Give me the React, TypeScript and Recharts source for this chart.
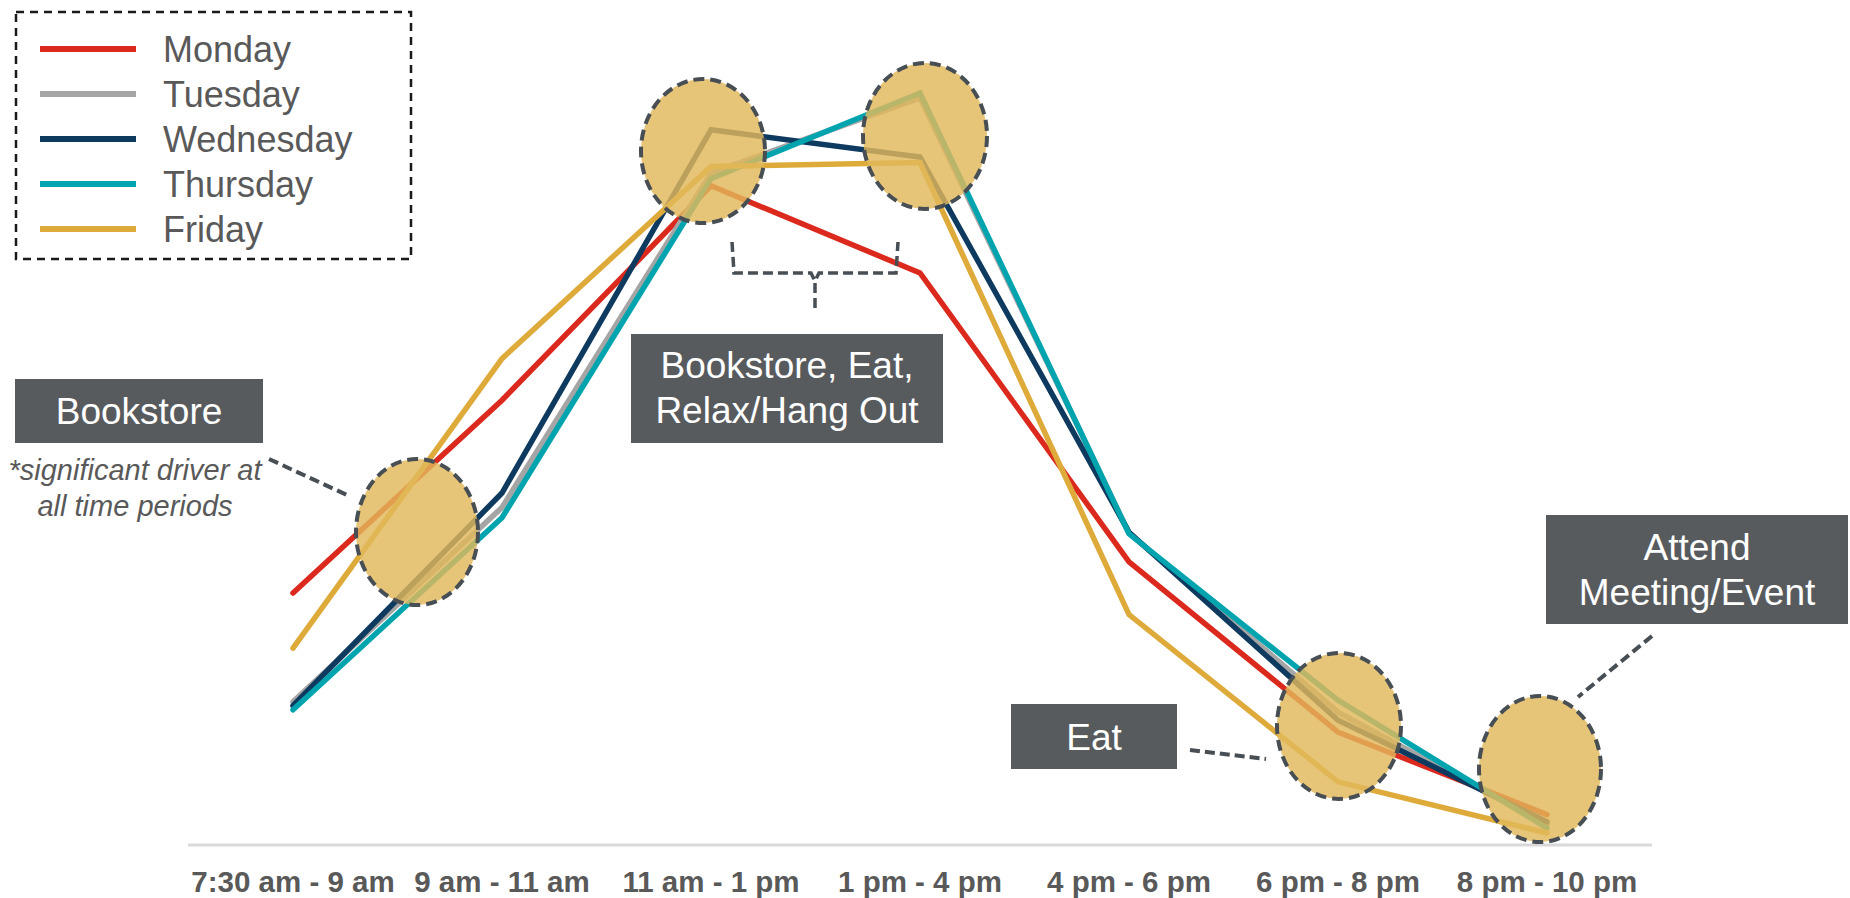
import { LineChart, Line, XAxis, YAxis } from 'recharts';

// time periods along the x axis
const timeSlots = ['7:30 am - 9 am', '9 am - 11 am', '11 am - 1 pm', '1 pm - 4 pm', '4 pm - 6 pm', '6 pm - 8 pm', '8 pm - 10 pm'];

// relative traffic per period, one list per weekday
const monday = [31.5, 55.6, 82.4, 71.5, 35.4, 14.1, 3.8];
const tuesday = [17.9, 42.2, 84.0, 93.4, 39.0, 16.6, 2.5];
const wednesday = [17.4, 44.0, 89.4, 86.0, 39.1, 15.6, 2.9];
const thursday = [16.9, 40.9, 83.3, 94.0, 38.9, 18.1, 2.1];
const friday = [24.6, 60.8, 84.8, 85.3, 28.8, 7.9, 1.5];

const days = ['Monday', 'Tuesday', 'Wednesday', 'Thursday', 'Friday'];
const dayValues = [monday, tuesday, wednesday, thursday, friday];
const dayColors = ['#DC291E', '#A5A5A5', '#0E3A5F', '#00A4AE', '#DEAB3B'];

const chartData = timeSlots.map((slot, i) => {
  const row: Record<string, string | number> = { slot };
  days.forEach((d, k) => {
    row[d] = dayValues[k][i];
  });
  return row;
});

const FONT = "'Liberation Sans', Arial, Helvetica, sans-serif";
const TEXT_GRAY = '#595959';
const BOX_FILL = '#585B5E';
const DASH_GRAY = '#474E54';
const W = 1850;
const H = 898;

function Bubble({ cx, cy, rx, ry }: { cx: number; cy: number; rx: number; ry: number }) {
  return (
    <ellipse
      cx={cx}
      cy={cy}
      rx={rx}
      ry={ry}
      fill="#E2B85A"
      fillOpacity={0.82}
      stroke={DASH_GRAY}
      strokeWidth={4}
      strokeDasharray="11 6"
    />
  );
}

function Callout({ x, y, w, h, lines, baselines }: { x: number; y: number; w: number; h: number; lines: string[]; baselines: number[] }) {
  return (
    <g>
      <rect x={x} y={y} width={w} height={h} fill={BOX_FILL} />
      {lines.map((t, i) => (
        <text key={t} x={x + w / 2} y={baselines[i]} textAnchor="middle" fill="#fff" fontSize={37} fontFamily={FONT}>
          {t}
        </text>
      ))}
    </g>
  );
}

function Overlay() {
  const dash = { stroke: DASH_GRAY, strokeWidth: 4, strokeDasharray: '10 5', fill: 'none' };
  return (
    <svg width={W} height={H} style={{ position: 'absolute', left: 0, top: 0, pointerEvents: 'none' }}>
      {/* legend */}
      <rect x={16} y={12} width={395} height={247} fill="#fff" stroke="#1a1a1a" strokeWidth={2.5} strokeDasharray="8 6" />
      {days.map((d, k) => {
        const ly = 49 + k * 45;
        return (
          <g key={d}>
            <line x1={40} x2={136} y1={ly} y2={ly} stroke={dayColors[k]} strokeWidth={6} />
            <text x={163} y={ly + 13} fill={TEXT_GRAY} fontSize={36} fontFamily={FONT}>
              {d}
            </text>
          </g>
        );
      })}

      {/* highlight bubbles */}
      <Bubble cx={417} cy={532} rx={61} ry={73} />
      <Bubble cx={703} cy={151} rx={62} ry={72} />
      <Bubble cx={925} cy={136} rx={62} ry={73} />
      <Bubble cx={1339} cy={726} rx={62} ry={73} />
      <Bubble cx={1540} cy={769} rx={61} ry={73} />

      {/* connectors */}
      <line x1={269} y1={459} x2={347} y2={495} {...dash} />
      <line x1={1190} y1={750} x2={1266} y2={759} {...dash} />
      <line x1={1652} y1={636} x2={1578} y2={697} {...dash} />
      <path d="M732,242 L734,273 L811,273 L815,281 L819,273 L896,273 L898,242" {...dash} strokeWidth={3.5} />
      <line x1={815} y1={283} x2={815} y2={308} {...dash} strokeWidth={3.5} />

      {/* callout boxes */}
      <Callout x={15} y={379} w={248} h={64} lines={['Bookstore']} baselines={[424]} />
      <Callout x={631} y={334} w={312} h={109} lines={['Bookstore, Eat,', 'Relax/Hang Out']} baselines={[378, 423]} />
      <Callout x={1011} y={704} w={166} h={65} lines={['Eat']} baselines={[750]} />
      <Callout x={1546} y={515} w={302} h={109} lines={['Attend', 'Meeting/Event']} baselines={[560, 605]} />

      <text x={135} y={480} textAnchor="middle" fill={TEXT_GRAY} fontSize={29} fontStyle="italic" fontFamily={FONT}>
        *significant driver at
      </text>
      <text x={135} y={516} textAnchor="middle" fill={TEXT_GRAY} fontSize={29} fontStyle="italic" fontFamily={FONT}>
        all time periods
      </text>
    </svg>
  );
}

export default function App() {
  return (
    <div style={{ position: 'absolute', left: 0, top: 0, width: W, height: H, background: '#fff', fontFamily: FONT }}>
      <LineChart width={W} height={H} data={chartData} margin={{ top: 45, right: 198, bottom: 0, left: 188 }}>
        <XAxis
          dataKey="slot"
          height={53}
          interval={0}
          padding={{ left: 105, right: 105 }}
          axisLine={{ stroke: '#D9D9D9', strokeWidth: 3 }}
          tickLine={false}
          tickSize={0}
          tickMargin={26}
          tick={{ fill: TEXT_GRAY, fontSize: 29.5, fontWeight: 700, fontFamily: FONT }}
        />
        <YAxis hide domain={[0, 100]} />
        {days.map((d, k) => (
          <Line
            key={d}
            type="linear"
            dataKey={d}
            stroke={dayColors[k]}
            strokeWidth={5.5}
            strokeLinecap="round"
            dot={false}
            activeDot={false}
            isAnimationActive={false}
          />
        ))}
      </LineChart>
      <Overlay />
    </div>
  );
}
